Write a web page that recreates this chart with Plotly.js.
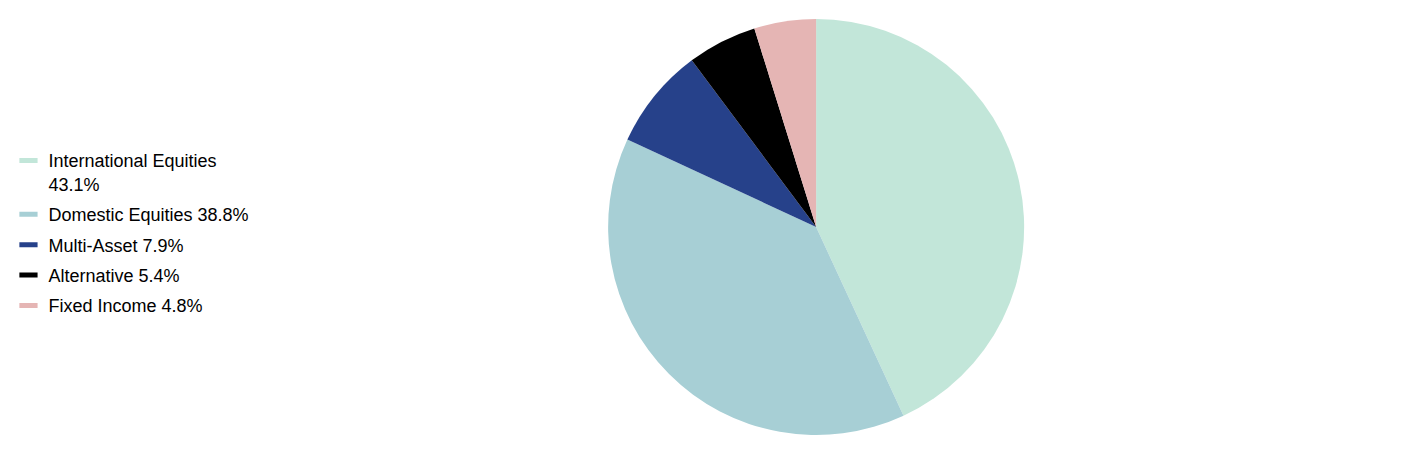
<!DOCTYPE html>
<html>
<head>
<meta charset="utf-8">
<script src="https://cdn.plot.ly/plotly-3.0.1.min.js"></script>
<style>
  html, body { margin: 0; padding: 0; background: #fff; }
  #allocationPie { width: 1412px; height: 464px; }
</style>
</head>
<body>
<div id="allocationPie"></div>
<script>
const categories = ["International Equities", "Domestic Equities", "Multi-Asset", "Alternative", "Fixed Income"];
const weights = [43.1, 38.8, 7.9, 5.4, 4.8];
const sliceColours = ["#c2e6d9", "#a7cfd5", "#26418a", "#000000", "#e5b5b4"];

const legendFont = { family: "Liberation Sans, Arial, sans-serif", size: 18, color: "#000" };

// legend text is "name pct%", long ones wrap onto a second line
const legendLabels = categories.map((name, i) => {
    const text = `${name} ${weights[i].toFixed(1)}%`;
    return text.length > 25 ? `${name}<br>${weights[i].toFixed(1)}%` : text;
});

const pieTrace = {
    type: "pie",
    labels: categories,
    values: weights,
    sort: false,
    direction: "clockwise",
    rotation: 0,
    marker: { colors: sliceColours, line: { width: 0 } },
    textinfo: "none",
    hoverinfo: "label+percent",
    showlegend: false,
    domain: { x: [0.3, 0.856], y: [0, 1] }
};

// empty traces only there for the flat bar-shaped legend keys
const legendTraces = legendLabels.map((label, i) => ({
    type: "scatter",
    mode: "markers",
    x: [null],
    y: [null],
    name: label,
    legendgroup: `g${i}`,
    marker: { symbol: "line-ew", size: 13, line: { color: sliceColours[i], width: 6 } },
    hoverinfo: "skip"
}));

const layout = {
    width: 1412,
    height: 464,
    margin: { l: 0, r: 0, t: 19, b: 29 },
    showlegend: true,
    legend: {
        x: 0.006,
        xanchor: "left",
        y: 0.485,
        yanchor: "middle",
        valign: "top",
        tracegroupgap: 4,
        font: legendFont,
        itemclick: false
    },
    xaxis: { visible: false },
    yaxis: { visible: false },
    font: { family: "Liberation Sans, Arial, sans-serif" },
    paper_bgcolor: "#fff",
    plot_bgcolor: "rgba(0,0,0,0)"
};

Plotly.newPlot("allocationPie", [pieTrace, ...legendTraces], layout, { displayModeBar: false, staticPlot: true });
</script>
</body>
</html>
